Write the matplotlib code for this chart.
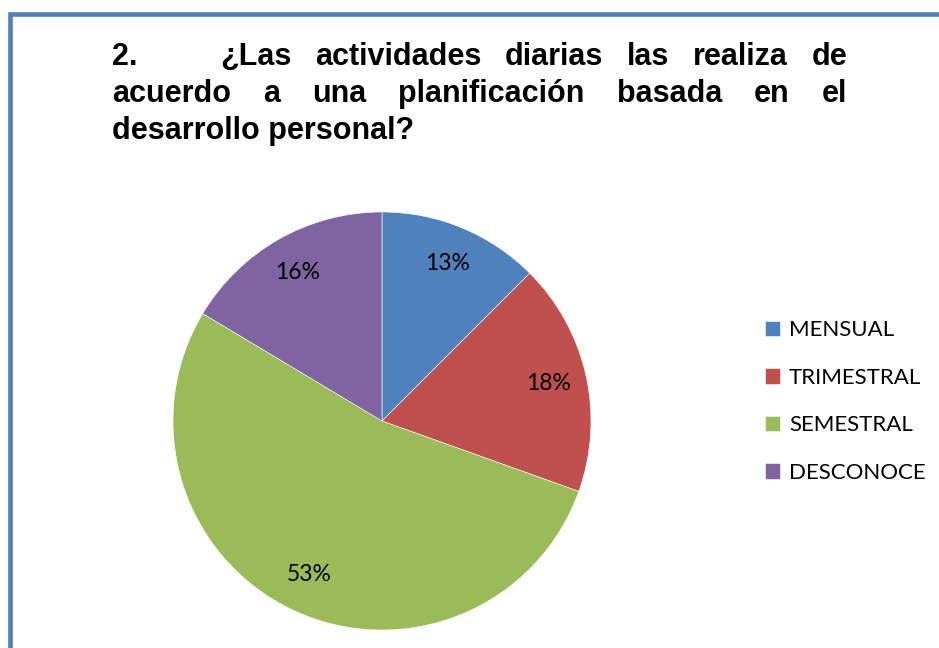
import matplotlib
matplotlib.use("Agg")
import matplotlib.pyplot as plt
from matplotlib.lines import Line2D

# ---- data ----
categories = ["MENSUAL", "TRIMESTRAL", "SEMESTRAL", "DESCONOCE"]
counts = [16, 23, 68, 21]
colors = ["#4F81BD", "#C0504D", "#9BBB59", "#8064A2"]
title_lines = [
    "2.\t¿Las actividades diarias las realiza de",
    "acuerdo a una planificación basada en el",
    "desarrollo personal?",
]

W, H = 939, 648
fig = plt.figure(figsize=(W / 100, H / 100), dpi=100)
fig.patch.set_facecolor("white")

def fx(x):
    return x / W

def fy(y):
    return 1 - y / H

# border (top and left)
fig.add_artist(Line2D([fx(10), fx(10), fx(W + 5)], [fy(H + 5), fy(14), fy(14)],
                      transform=fig.transFigure, color="#4F81BD", lw=3.3,
                      solid_joinstyle="miter"))

# pie
R = 209
cx, cy = 382, 421
ax = fig.add_axes([fx(cx - R), fy(cy + R), 2 * R / W, 2 * R / H])
ax.set_aspect("equal")

def fmt(p):
    return f"{int(p + 0.5 + 1e-9)}%"

wedges, texts, autotexts = ax.pie(
    counts, colors=colors, startangle=90, counterclock=False,
    autopct=fmt, pctdistance=0.815, radius=1,
    wedgeprops=dict(edgecolor="white", linewidth=0.4),
    textprops=dict(fontsize=16.5, family="Lato", color="black"))
ax.set_xlim(-1, 1)
ax.set_ylim(-1, 1)
ax.axis("off")

leg = ax.legend(wedges, categories, loc="center left",
                bbox_to_anchor=(fx(765), fy(401.5)), bbox_transform=fig.transFigure,
                frameon=False, borderpad=0, borderaxespad=0,
                handlelength=0.675, handleheight=0.675, handletextpad=0.4,
                labelspacing=1.24, prop=dict(family="Lato", size=16))

# title, justified
fig.canvas.draw()
renderer = fig.canvas.get_renderer()
tprops = dict(family="Liberation Sans", weight="bold", fontsize=22, color="black",
              va="baseline", ha="left", transform=fig.transFigure)

def place_justified(words, x0, x1, ybase):
    objs = [fig.text(0, fy(ybase), w, **tprops) for w in words]
    widths = [o.get_window_extent(renderer).width for o in objs]
    gap = (x1 - x0 - sum(widths)) / (len(words) - 1)
    x = x0
    for o, w in zip(objs, widths):
        o.set_x(fx(x))
        x += w + gap

first, rest = title_lines[0].split("\t")
fig.text(fx(112), fy(65), first, **tprops)
place_justified(rest.split(), 220, 847, 65)
place_justified(title_lines[1].split(), 112, 847, 102)
fig.text(fx(112), fy(139), title_lines[2], **tprops)

fig.savefig("out.png", dpi=100, facecolor="white")
